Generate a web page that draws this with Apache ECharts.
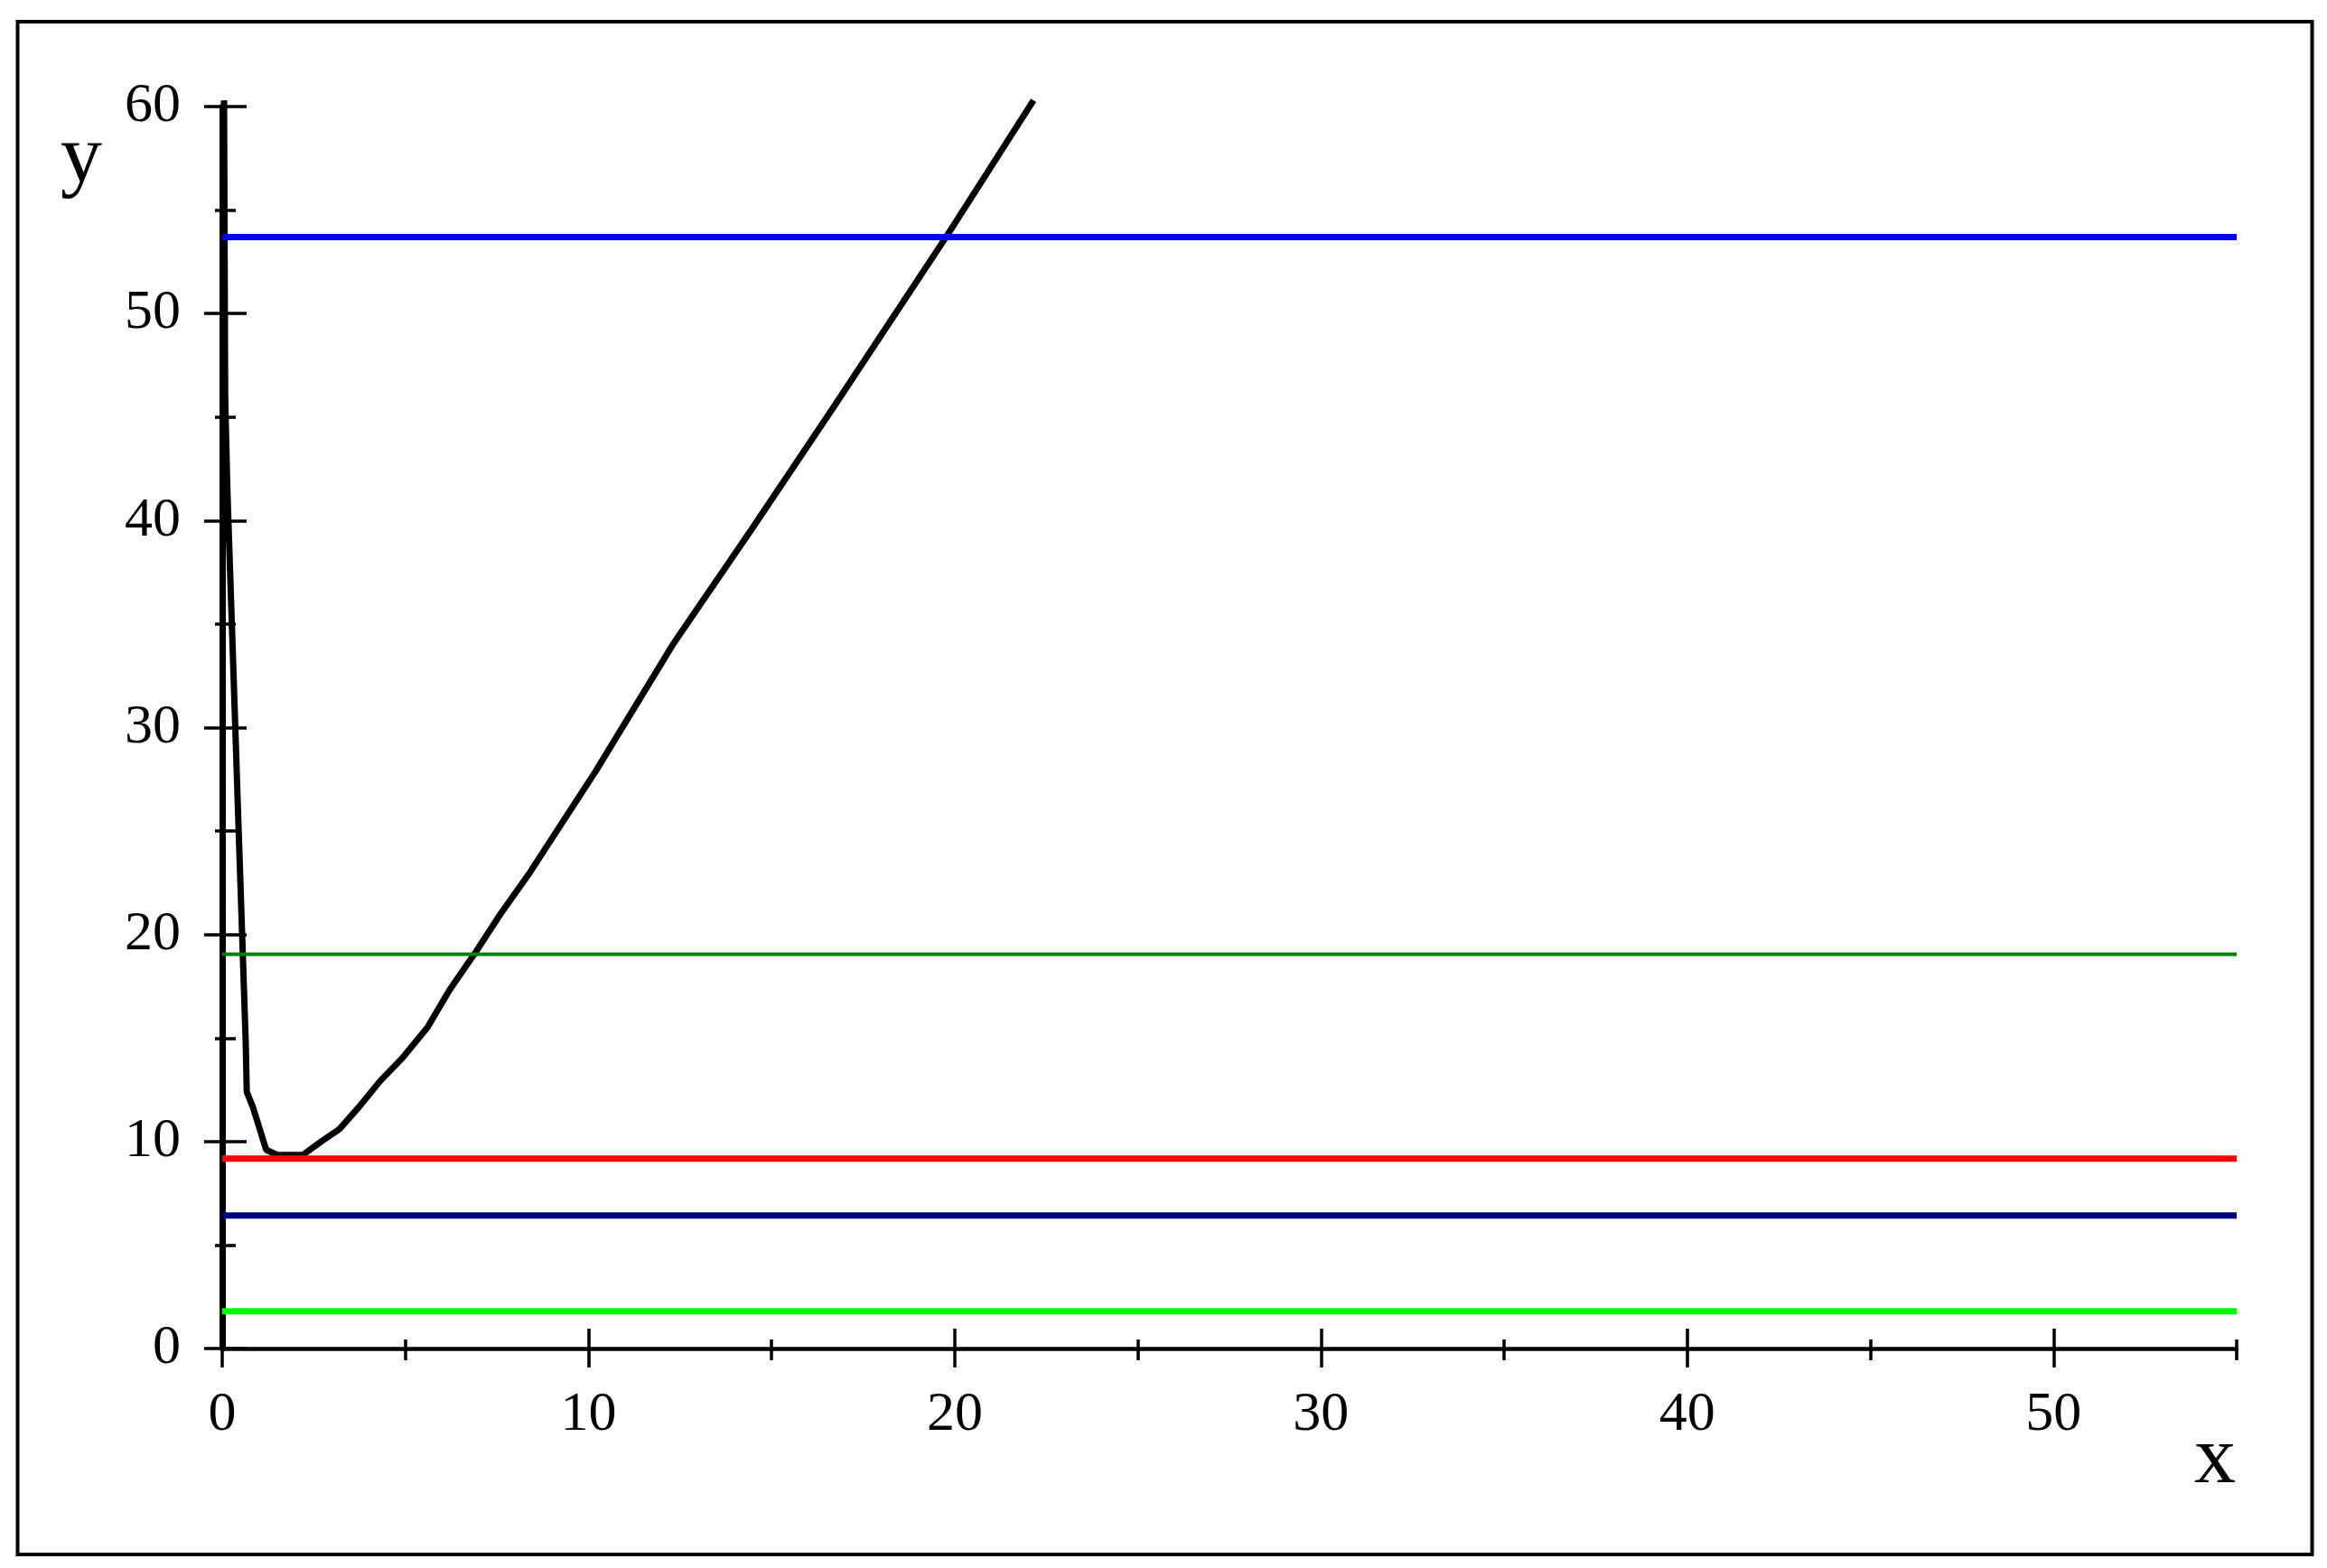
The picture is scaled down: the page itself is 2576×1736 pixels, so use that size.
<!DOCTYPE html>
<html>
<head>
<meta charset="utf-8">
<title>y(x)</title>
<script src="https://cdn.jsdelivr.net/npm/echarts@6/dist/echarts.min.js"></script>
<style>
html, body { margin: 0; padding: 0; background: #fff; }
#chart { width: 2576px; height: 1736px; }
</style>
</head>
<body>
<div id="chart"></div>
<script>
// black curve
const curveX = [0.05, 0.08, 0.14, 0.24, 0.34, 0.44, 0.54, 0.64, 0.67, 0.85, 1.2, 1.5, 2.2, 2.7, 3.2, 3.7, 4.3, 4.9, 5.6, 6.2, 6.9, 7.6, 8.4, 10.2, 12.3, 14.5, 16.7, 19.8, 22.15]
const curveY = [60.3, 46.0, 41.5, 36.2, 30.9, 25.5, 20.2, 14.9, 12.4, 11.6, 9.6, 9.35, 9.35, 10.0, 10.6, 11.6, 12.9, 14.0, 15.5, 17.3, 19.1, 21.0, 23.0, 27.9, 34.0, 39.7, 45.5, 53.8, 60.3]

// horizontal levels
const levelValues = [53.7, 19.05, 9.18, 6.43, 1.8]
const levelColors = ['#0000ff', '#008000', '#ff0000', '#000080', '#00ff00']
const levelWidths = [7, 4, 7, 7, 7]

const xMin = 0
const xMax = 55
const yMin = 0
const yMax = 60

const xMajorTicks = [0, 10, 20, 30, 40, 50]
const xMinorTicks = [5, 15, 25, 35, 45, 55]
const yMajorTicks = [0, 10, 20, 30, 40, 50, 60]
const yMinorTicks = [5, 15, 25, 35, 45, 55]

const font = 'Liberation Serif'

const chart = echarts.init(document.getElementById('chart'))

// one axis per tick set and side, so ticks can cross the axis line
const tickAxis = (dim, ticks, inside, length) => ({
  type: 'value',
  min: dim === 'x' ? xMin : yMin,
  max: dim === 'x' ? xMax : yMax,
  position: dim === 'x' ? 'bottom' : 'left',
  axisLine: { show: false, onZero: false },
  axisLabel: { show: false },
  splitLine: { show: false },
  axisTick: {
    show: true,
    inside: inside,
    length: length,
    customValues: ticks,
    lineStyle: { color: '#000', width: 3.5 }
  }
})

const xAxes = [
  {
    type: 'value',
    min: xMin,
    max: xMax,
    interval: 10,
    position: 'bottom',
    axisLine: { show: true, onZero: false, lineStyle: { color: '#000', width: 4.5 } },
    axisTick: { show: true, length: 21, customValues: xMajorTicks, lineStyle: { color: '#000', width: 3.5 } },
    axisLabel: {
      customValues: xMajorTicks,
      margin: 43,
      color: '#000',
      fontFamily: font,
      fontSize: 62
    },
    splitLine: { show: false }
  },
  tickAxis('x', xMajorTicks, true, 22),
  tickAxis('x', xMinorTicks, false, 13),
  tickAxis('x', xMinorTicks, true, 10)
]

const yAxes = [
  {
    type: 'value',
    min: yMin,
    max: yMax,
    interval: 10,
    position: 'left',
    axisLine: { show: true, onZero: false, lineStyle: { color: '#000', width: 7 } },
    axisTick: { show: true, length: 20, customValues: yMajorTicks, lineStyle: { color: '#000', width: 3.5 } },
    axisLabel: {
      margin: 46,
      color: '#000',
      fontFamily: font,
      fontSize: 62
    },
    splitLine: { show: false }
  },
  tickAxis('y', yMajorTicks, true, 27),
  tickAxis('y', yMinorTicks, false, 8),
  tickAxis('y', yMinorTicks, true, 15)
]

const series = [
  {
    name: 'curve',
    type: 'line',
    data: curveX.map((x, i) => [x, curveY[i]]),
    symbol: 'none',
    clip: false,
    lineStyle: { color: '#000', width: 7 }
  }
]
levelValues.forEach((v, i) => {
  series.push({
    name: 'level' + i,
    type: 'line',
    data: [[xMin, v], [xMax, v]],
    symbol: 'none',
    lineStyle: { color: levelColors[i], width: levelWidths[i] }
  })
})

const option = {
  animation: false,
  backgroundColor: '#fff',
  grid: { left: 246, right: 100, top: 118, bottom: 243 },
  xAxis: xAxes,
  yAxis: yAxes,
  series: series,
  graphic: [
    {
      type: 'rect',
      silent: true,
      shape: { x: 19.5, y: 24, width: 2540, height: 1697 },
      style: { fill: 'none', stroke: '#000', lineWidth: 4 }
    },
    {
      type: 'text',
      silent: true,
      style: { text: 'y', x: 90, y: 177, font: '92px "Liberation Serif"', fill: '#000', align: 'center', verticalAlign: 'middle' }
    },
    {
      type: 'text',
      silent: true,
      style: { text: 'x', x: 2452, y: 1617, font: '92px "Liberation Serif"', fill: '#000', align: 'center', verticalAlign: 'middle' }
    }
  ]
}

chart.setOption(option)
</script>
</body>
</html>
